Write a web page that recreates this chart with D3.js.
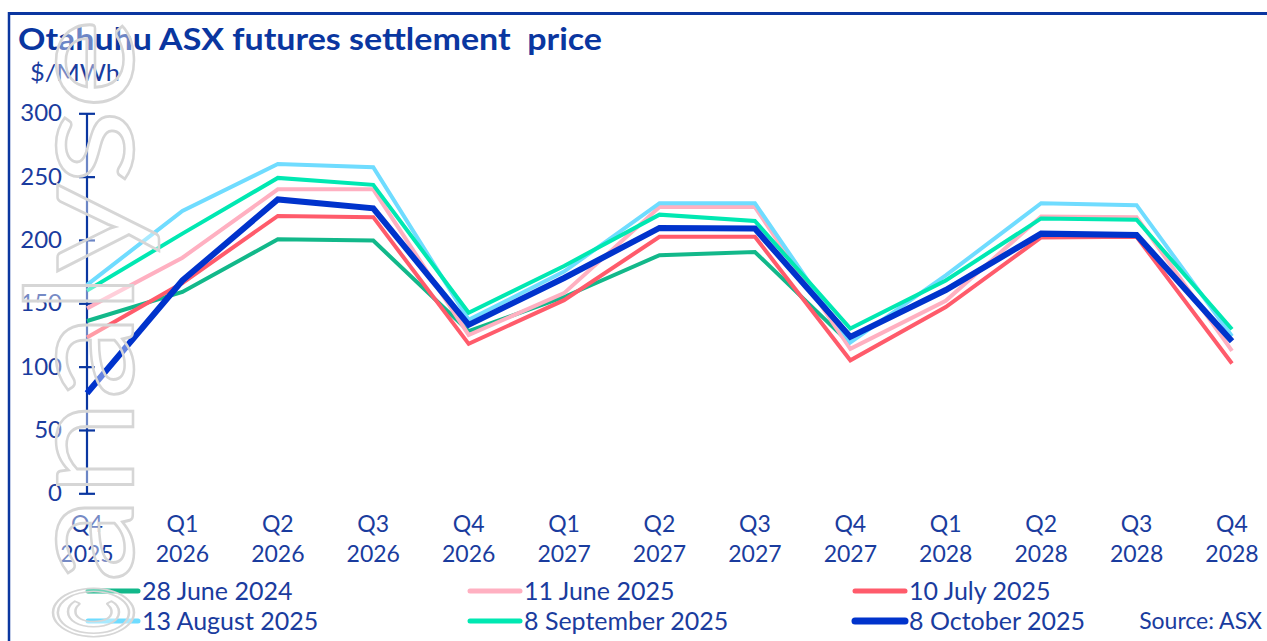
<!DOCTYPE html>
<html><head><meta charset="utf-8">
<script src="https://cdn.jsdelivr.net/npm/d3@7/dist/d3.min.js"></script>
<style>
body{margin:0;background:#fff}
svg{display:block}
text{font-family:Lato,"Open Sans",sans-serif;white-space:pre}
</style>
</head><body>
<svg id="chart" width="1267" height="641"></svg>
<script>
const categories = ["Q4 2025","Q1 2026","Q2 2026","Q3 2026","Q4 2026","Q1 2027","Q2 2027","Q3 2027","Q4 2027","Q1 2028","Q2 2028","Q3 2028","Q4 2028"];
const june2024 = [136, 159, 200.5, 199.5, 128, 155, 188, 190.5, 118, null, null, null, null];
const june2025 = [146, 186, 240, 240, 125, 158, 226, 226, 114, 152, 218.5, 218, 112.5];
const july2025 = [123, 166, 219, 218, 118, 152.5, 202.5, 202.5, 105, 147, 202, 202.5, 102.5];
const august2025 = [164.5, 223, 260, 257.5, 137, 175, 229, 229, 119, 172, 229, 227.5, 124];
const september2025 = [160, 205, 249, 243.5, 142.5, 179.5, 220, 215, 130, 168, 217, 216, 129.5];
const october2025 = [79, 168, 232, 225, 133, 170, 209.5, 209, 123.5, 160.5, 205, 204, 120];
const seriesNames = ["28 June 2024","11 June 2025","10 July 2025","13 August 2025","8 September 2025","8 October 2025"];
const seriesValues = [june2024, june2025, july2025, august2025, september2025, october2025];
const yTicks = [0, 50, 100, 150, 200, 250, 300];
const title = "Otahuhu ASX futures settlement  price";
const unitLabel = "$/MWh";
const sourceLabel = "Source: ASX";
const watermark = "analyse";

const colors = ["#12b88a","#ffb0c1","#ff5b6b","#6fdcff","#00e8b2","#0033cc"];
const widths = [4,4,4,4,4,6];
const navy = "#0a36a0";
const textCol = "#1a3c9e";

const svg = d3.select("#chart");

// frame
svg.append("line").attr("x1",8).attr("x2",1267).attr("y1",13.5).attr("y2",13.5).attr("stroke","#0a36a0").attr("stroke-width",3);
svg.append("line").attr("x1",9).attr("x2",9).attr("y1",12).attr("y2",641).attr("stroke","#0a36a0").attr("stroke-width",2.5);

// title
svg.append("text").attr("x",18).attr("y",50).attr("font-size",30).attr("font-weight",700)
  .attr("fill",navy).attr("textLength",584).attr("lengthAdjust","spacingAndGlyphs").text(title);
svg.append("text").attr("x",30).attr("y",81).attr("font-size",23).attr("fill",textCol)
  .attr("textLength",90).attr("lengthAdjust","spacingAndGlyphs").text(unitLabel);

const x = d3.scalePoint().domain(categories).range([87,1232]);
const y = d3.scaleLinear().domain([0,300]).range([493.3,113.3]);

// y axis
const yAxis = d3.axisLeft(y).tickValues(yTicks).tickSize(0).tickPadding(25).tickFormat(d3.format("d"));
const gy = svg.append("g").attr("transform","translate(87,0)").call(yAxis);
gy.select(".domain").attr("stroke",navy).attr("stroke-width",2.2).attr("d",`M0,${y(300)}V${y(0)}`);
gy.selectAll(".tick line").attr("x1",-8).attr("x2",8).attr("stroke",navy).attr("stroke-width",2.2);
gy.selectAll(".tick text").attr("font-size",24).attr("fill",textCol).attr("font-family","Lato,'Open Sans',sans-serif");

// x labels
const gx = svg.append("g");
categories.forEach(c => {
  const parts = c.split(" ");
  const t = gx.append("text").attr("x",x(c)).attr("text-anchor","middle").attr("font-size",23).attr("fill",textCol);
  t.append("tspan").attr("x",x(c)).attr("y",532).text(parts[0]);
  t.append("tspan").attr("x",x(c)).attr("y",562).text(parts[1]);
});

// lines
const line = d3.line().defined(d => d != null).x((d,i) => x(categories[i])).y(d => y(d));
seriesValues.forEach((vals,k) => {
  svg.append("path").datum(vals).attr("d",line).attr("fill","none")
    .attr("stroke",colors[k]).attr("stroke-width",widths[k]).attr("stroke-linejoin","miter");
});

// legend
const legendPos = [[88,591],[470,591],[855,591],[88,621],[470,621],[855,621]];
seriesNames.forEach((n,k) => {
  const [lx,ly] = legendPos[k];
  svg.append("line").attr("x1",lx).attr("x2",lx+50).attr("y1",ly).attr("y2",ly)
    .attr("stroke",colors[k]).attr("stroke-width",widths[k]+1).attr("stroke-linecap","round");
  svg.append("text").attr("x",lx+54).attr("y",ly+9).attr("font-size",25).attr("fill",textCol).text(n);
});
svg.append("text").attr("x",1262).attr("y",629).attr("text-anchor","end").attr("font-size",23).attr("fill",textCol).text(sourceLabel);

// watermark (rotated outline text)
const wm = svg.append("g").attr("fill","#ffffff").attr("fill-opacity",0.4).attr("stroke","#d6d6d6").attr("stroke-width",2.5);
wm.append("text").attr("transform","translate(133,583) rotate(-90)").attr("font-size",150)
  .attr("textLength",565).attr("lengthAdjust","spacingAndGlyphs").text(watermark);
wm.append("text").attr("transform","translate(133,640) rotate(-90)").attr("font-size",110)
  .attr("textLength",55).attr("lengthAdjust","spacingAndGlyphs").text("©");
</script>
</body></html>
